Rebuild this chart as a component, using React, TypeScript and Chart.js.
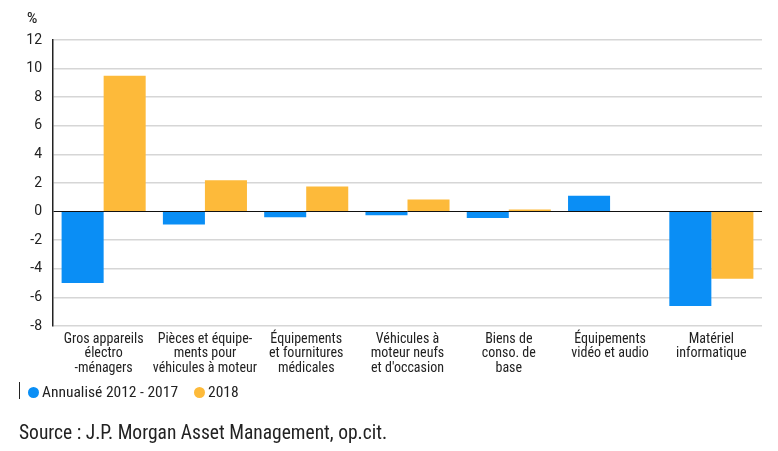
import React, { useEffect, useRef } from "react";
import { Chart, registerables } from "chart.js";

Chart.register(...registerables);

const categories: string[][] = [
  ["Gros appareils", "électro", "-ménagers"],
  ["Pièces et équipe-", "ments pour", "véhicules à moteur"],
  ["Équipements", "et fournitures", "médicales"],
  ["Véhicules à", "moteur neufs", "et d'occasion"],
  ["Biens de", "conso. de", "base"],
  ["Équipements", "vidéo et audio"],
  ["Matériel", "informatique"],
];
const annualise: number[] = [-5.0, -0.9, -0.4, -0.25, -0.45, 1.1, -6.6];
const y2018: number[] = [9.5, 2.2, 1.75, 0.85, 0.15, 0, -4.7];
const seriesNames = ["Annualisé 2012 - 2017", "2018"];
const yTicks = [12, 10, 8, 6, 4, 2, 0, -2, -4, -6, -8];

const BLUE = "#0A8EF5";
const ORANGE = "#FDBA3A";
const FONT = "'Liberation Sans Narrow', 'Roboto Condensed', Roboto, sans-serif";

export default function App() {
  const ref = useRef<HTMLCanvasElement | null>(null);
  useEffect(() => {
    if (!ref.current) return;
    const chart = new Chart(ref.current, {
      type: "bar",
      data: {
        labels: categories,
        datasets: [
          { label: seriesNames[0], data: annualise, backgroundColor: BLUE, borderWidth: 0 },
          { label: seriesNames[1], data: y2018, backgroundColor: ORANGE, borderWidth: 0 },
        ],
      },
      options: {
        animation: false,
        responsive: false,
        maintainAspectRatio: false,
        devicePixelRatio: 1,
        layout: { padding: { left: 0, right: 16, top: 40, bottom: 0 } },
        plugins: { legend: { display: false }, tooltip: { enabled: false } },
        datasets: { bar: { categoryPercentage: 0.83, barPercentage: 1 } },
        scales: {
          x: {
            grid: { display: false, drawTicks: false },
            border: { display: false },
            ticks: {
              color: "#222",
              font: { family: FONT, size: 14, lineHeight: 1.03 },
              padding: 6,
              maxRotation: 0,
              autoSkip: false,
            },
            afterFit: (s: any) => { s.height = 125; },
          },
          y: {
            min: -8,
            max: 12,
            afterBuildTicks: (s: any) => { s.ticks = yTicks.map((v) => ({ value: v })); },
            grid: {
              color: (ctx: any) => (ctx.tick && ctx.tick.value === 0 ? "#111" : "#d6d6d6"),
              lineWidth: (ctx: any) => (ctx.tick && ctx.tick.value === 0 ? 1 : 1.5),
              drawTicks: false,
            },
            border: { display: true, color: "#222", width: 1.5 },
            ticks: {
              color: "#222",
              font: { family: "Roboto, sans-serif", size: 14 },
              padding: 11,
            },
            afterFit: (s: any) => { s.width = 53; },
          },
        },
      },
    });
    return () => chart.destroy();
  }, []);

  const dot = (c: string) => ({
    display: "inline-block",
    width: 11,
    height: 11,
    borderRadius: "50%",
    background: c,
    marginRight: 3,
    verticalAlign: "-1px",
  });

  return (
    <div style={{ position: "relative", width: 778, height: 451, background: "#fff", margin: -8, fontFamily: FONT }}>
      <canvas ref={ref} width={778} height={451} style={{ position: "absolute", left: 0, top: 0 }} />
      <div style={{ position: "absolute", left: 27, top: 10, fontSize: 14, color: "#222", fontFamily: "Roboto, sans-serif", fontWeight: 500 }}>%</div>
      <div style={{ position: "absolute", left: 19, top: 382, height: 17, borderLeft: "1.5px solid #222" }} />
      <div style={{ position: "absolute", left: 28, top: 383, fontSize: 15.5, color: "#222", whiteSpace: "nowrap", lineHeight: "18px" }}>
        <span style={dot(BLUE)} />
        {seriesNames[0]}
        <span style={{ ...dot(ORANGE), marginLeft: 16 }} />
        {seriesNames[1]}
      </div>
      <div style={{ position: "absolute", left: 19, top: 421, fontSize: 19.5, color: "#222", whiteSpace: "nowrap" }}>
        Source : J.P. Morgan Asset Management, op.cit.
      </div>
    </div>
  );
}
